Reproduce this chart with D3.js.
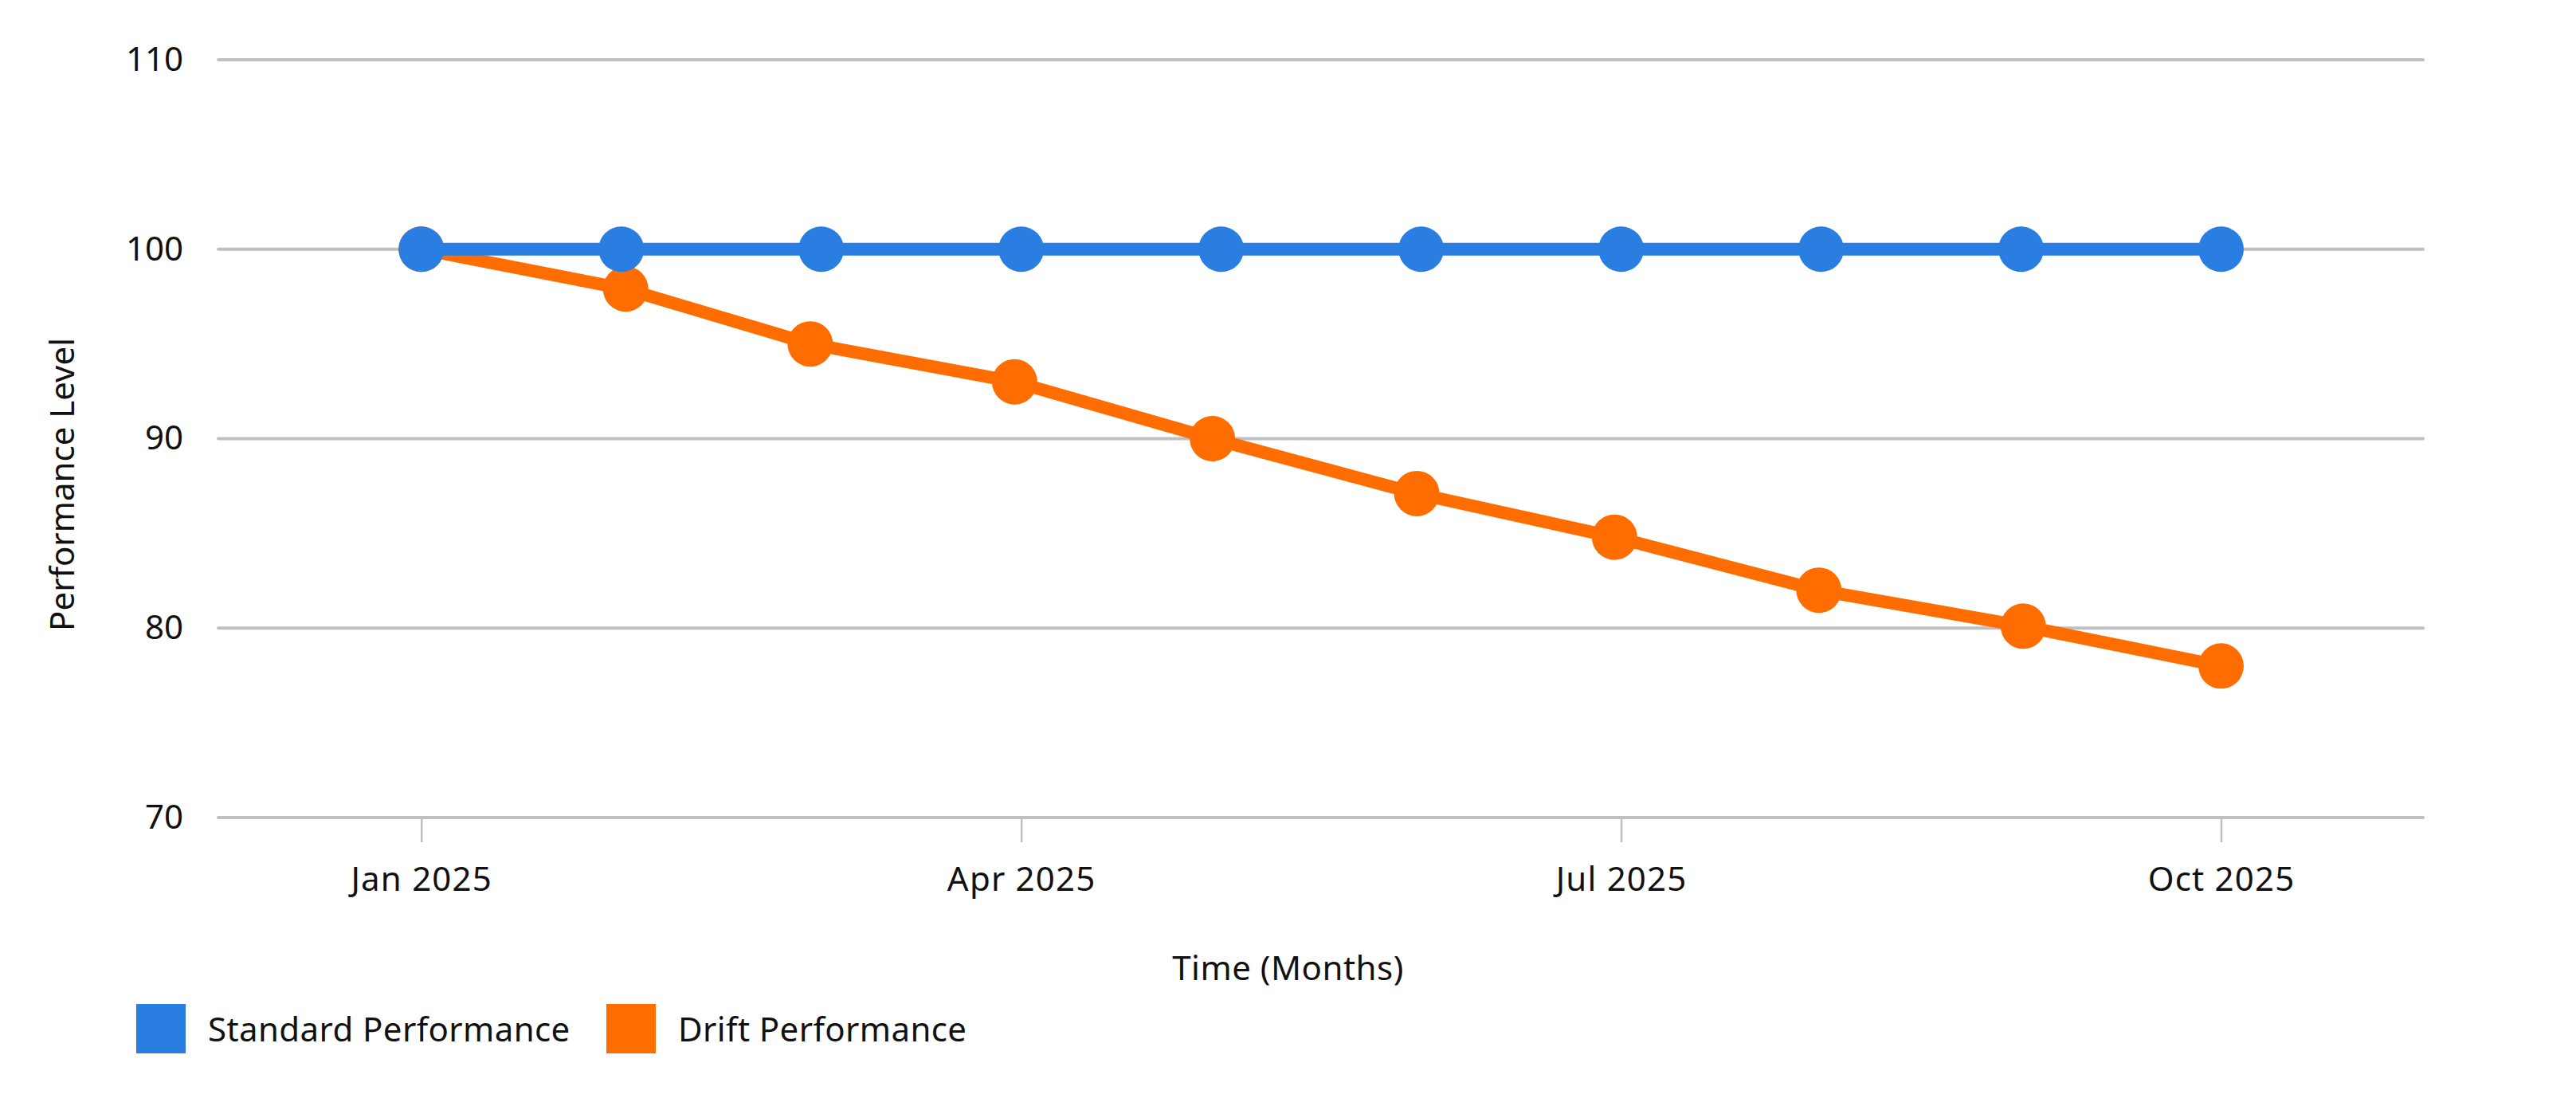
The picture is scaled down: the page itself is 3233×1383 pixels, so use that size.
<!DOCTYPE html>
<html>
<head>
<meta charset="utf-8">
<script src="https://cdn.jsdelivr.net/npm/d3@7"></script>
<style>
  html, body { margin: 0; padding: 0; background: #fff; }
  svg { display: block; font-family: "Noto Sans", "Open Sans", sans-serif; }
</style>
</head>
<body>
<svg id="chart" width="3233" height="1383"></svg>
<script>
// ---- data ----
const months = ["Jan 2025","Feb 2025","Mar 2025","Apr 2025","May 2025","Jun 2025","Jul 2025","Aug 2025","Sep 2025","Oct 2025"];
const monthDates = ["2025-01-01","2025-02-01","2025-03-01","2025-04-01","2025-05-01","2025-06-01","2025-07-01","2025-08-01","2025-09-01","2025-10-01"];
const standardValues = [100,100,100,100,100,100,100,100,100,100];
const driftValues = [100,97.9,95,93,90,87.1,84.8,82,80.1,78];
const xTickLabels = ["Jan 2025","Apr 2025","Jul 2025","Oct 2025"];
const yTicks = [70,80,90,100,110];
const seriesNames = ["Standard Performance","Drift Performance"];
const seriesColors = ["#2a7de1","#ff6d00"];

// ---- layout ----
const W = 3233, H = 1383;
const plot = {left: 274, right: 3041, top: 75, bottom: 1026};
const svg = d3.select("#chart");

const y = d3.scaleLinear().domain([70,110]).range([plot.bottom, plot.top]);
const xIdx = d3.scaleLinear().domain([-1.015, 10.01]).range([plot.left, plot.right]);
const parse = d3.timeParse("%Y-%m-%d");
const xTime = d3.scaleTime()
  .domain([parse(monthDates[0]), parse(monthDates[monthDates.length-1])])
  .range([xIdx(0), xIdx(months.length-1)]);

// gridlines
svg.append("g").selectAll("line").data(yTicks).join("line")
  .attr("x1", plot.left).attr("x2", plot.right)
  .attr("y1", d => y(d)).attr("y2", d => y(d))
  .attr("stroke", "#c0c0c3").attr("stroke-width", 4).attr("stroke-linecap", "round");

// y axis labels
const yAxis = d3.axisLeft(y).tickValues(yTicks).tickSize(0).tickPadding(44);
const gy = svg.append("g").attr("transform", `translate(${plot.left},0)`).call(yAxis);
gy.select(".domain").remove();
gy.selectAll("text").attr("font-size", 42).attr("fill", "#111").attr("font-family", "Noto Sans, sans-serif");

// x axis
const tickIdx = xTickLabels.map(l => months.indexOf(l));
const xAxis = d3.axisBottom(xIdx).tickValues(tickIdx).tickFormat(i => months[i]).tickSize(31).tickPadding(31);
const gx = svg.append("g").attr("transform", `translate(0,${plot.bottom})`).call(xAxis);
gx.select(".domain").remove();
gx.selectAll(".tick line").attr("stroke", "#c0c0c3").attr("stroke-width", 2.5);
gx.selectAll("text").attr("font-size", 42).attr("letter-spacing", 1.2).attr("fill", "#111").attr("font-family", "Noto Sans, sans-serif");

// axis titles
svg.append("text").attr("x", W/2).attr("y", 1230).attr("text-anchor", "middle")
  .attr("font-size", 42).attr("letter-spacing", 0.5).attr("fill", "#111").text("Time (Months)");
svg.append("text").attr("transform", "translate(93,608) rotate(-90)").attr("text-anchor", "middle")
  .attr("font-size", 42).attr("fill", "#111").text("Performance Level");

// drift series (time scale)
const driftData = driftValues.map((v,i) => ({x: xTime(parse(monthDates[i])), y: y(v)}));
const line = d3.line().x(d => d.x).y(d => d.y);
svg.append("path").datum(driftData).attr("d", line)
  .attr("fill", "none").attr("stroke", seriesColors[1]).attr("stroke-width", 16).attr("stroke-linejoin", "round");
svg.append("g").selectAll("circle").data(driftData).join("circle")
  .attr("cx", d => d.x).attr("cy", d => d.y).attr("r", 28.5).attr("fill", seriesColors[1]);

// standard series (month index)
const stdData = standardValues.map((v,i) => ({x: xIdx(i), y: y(v)}));
svg.append("path").datum(stdData).attr("d", line)
  .attr("fill", "none").attr("stroke", seriesColors[0]).attr("stroke-width", 16).attr("stroke-linejoin", "round");
svg.append("g").selectAll("circle").data(stdData).join("circle")
  .attr("cx", d => d.x).attr("cy", d => d.y).attr("r", 28.5).attr("fill", seriesColors[0]);

// legend
const legX = [171, 761];
const leg = svg.append("g").selectAll("g").data(seriesNames).join("g")
  .attr("transform", (d,i) => `translate(${legX[i]},1260)`);
leg.append("rect").attr("width", 62).attr("height", 62).attr("fill", (d,i) => seriesColors[i]);
leg.append("text").attr("x", 90).attr("y", 47).attr("font-size", 42).attr("letter-spacing", 0.4).attr("fill", "#111").text(d => d);
</script>
</body>
</html>
